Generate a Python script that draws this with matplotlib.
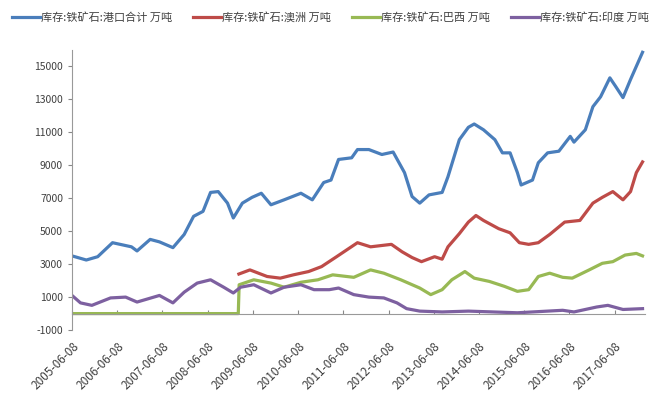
import matplotlib.pyplot as plt
import pandas as pd

plt.rcParams['font.family'] = ['Noto Sans CJK SC', 'DejaVu Sans']
plt.rcParams['axes.unicode_minus'] = False

# 库存:铁矿石:港口合计
total_dates = ['2005-06-08', '2005-10-01', '2006-01-01', '2006-05-01', '2006-10-01', '2006-11-15',
               '2007-03-01', '2007-05-15', '2007-09-01', '2007-12-01', '2008-02-15', '2008-05-01',
               '2008-07-01', '2008-09-01', '2008-11-15', '2009-01-01', '2009-03-15', '2009-06-01',
               '2009-08-15', '2009-11-01', '2010-02-15', '2010-07-01', '2010-10-01', '2011-01-01',
               '2011-03-01', '2011-05-01', '2011-08-15', '2011-10-01', '2012-01-01', '2012-04-15',
               '2012-07-15', '2012-10-15', '2012-12-15', '2013-02-15', '2013-05-01', '2013-08-15',
               '2013-10-01', '2014-01-01', '2014-03-15', '2014-05-01', '2014-07-15', '2014-10-15',
               '2014-12-15', '2015-02-15', '2015-04-15', '2015-05-15', '2015-08-15', '2015-10-01',
               '2015-12-15', '2016-03-15', '2016-06-15', '2016-07-15', '2016-10-15', '2016-12-15',
               '2017-02-15', '2017-05-01', '2017-06-15', '2017-08-15', '2017-10-15', '2017-12-01',
               '2018-01-20']
total_vals = [3500, 3250, 3450, 4300, 4050, 3800,
              4500, 4350, 4000, 4800, 5900, 6200,
              7350, 7400, 6700, 5800, 6700, 7050,
              7300, 6600, 6900, 7300, 6900, 7950,
              8100, 9350, 9450, 9950, 9950, 9650,
              9800, 8550, 7100, 6700, 7200, 7350,
              8300, 10550, 11300, 11500, 11150, 10550,
              9750, 9750, 8550, 7800, 8100, 9150,
              9750, 9850, 10750, 10400, 11150, 12550,
              13150, 14300, 13800, 13100, 14200, 15000,
              15850]

# 库存:铁矿石:澳洲
aus_dates = ['2009-02-15', '2009-05-15', '2009-10-01', '2010-01-15', '2010-05-01', '2010-09-01',
             '2010-12-15', '2011-04-15', '2011-10-01', '2012-01-15', '2012-07-01', '2012-09-25',
             '2012-12-15', '2013-03-01', '2013-06-15', '2013-08-15', '2013-10-01', '2014-01-01',
             '2014-03-15', '2014-05-15', '2014-07-15', '2014-11-15', '2015-02-15', '2015-05-01',
             '2015-07-15', '2015-10-01', '2016-01-01', '2016-05-01', '2016-09-01', '2016-12-15',
             '2017-03-01', '2017-05-25', '2017-08-15', '2017-10-15', '2017-12-01', '2018-01-20']
aus_vals = [2400, 2650, 2250, 2150, 2350, 2550,
            2850, 3450, 4300, 4050, 4200, 3750,
            3400, 3150, 3450, 3300, 4050, 4850,
            5550, 5950, 5650, 5150, 4900, 4300,
            4200, 4300, 4800, 5550, 5650, 6700,
            7050, 7400, 6900, 7400, 8550, 9200]

# 库存:铁矿石:巴西
bra_dates = ['2005-06-08', '2009-02-10', '2009-02-17', '2009-06-15', '2009-11-01', '2010-02-15',
             '2010-07-01', '2010-11-15', '2011-03-15', '2011-09-01', '2012-01-15', '2012-05-01',
             '2012-09-15', '2013-02-15', '2013-05-15', '2013-08-15', '2013-11-01', '2014-02-15',
             '2014-05-01', '2014-09-01', '2015-01-01', '2015-04-15', '2015-07-15', '2015-10-01',
             '2016-01-01', '2016-04-15', '2016-07-01', '2016-11-15', '2017-03-01', '2017-05-25',
             '2017-09-01', '2017-12-01', '2018-01-20']
bra_vals = [0, 0, 1750, 2050, 1850, 1600,
            1900, 2050, 2350, 2200, 2650, 2450,
            2050, 1550, 1150, 1450, 2050, 2550,
            2150, 1950, 1650, 1350, 1450, 2250,
            2450, 2200, 2150, 2650, 3050, 3150,
            3550, 3650, 3500]

# 库存:铁矿石:印度
ind_dates = ['2005-06-08', '2005-08-15', '2005-11-15', '2006-04-15', '2006-08-15', '2006-11-15',
             '2007-05-15', '2007-09-01', '2007-12-01', '2008-03-15', '2008-07-01', '2008-10-15',
             '2009-01-01', '2009-03-01', '2009-06-15', '2009-11-01', '2010-02-15', '2010-07-01',
             '2010-10-15', '2011-02-15', '2011-05-01', '2011-09-01', '2012-01-01', '2012-05-01',
             '2012-08-15', '2012-11-01', '2013-02-15', '2013-08-15', '2014-03-15', '2015-04-15',
             '2016-04-15', '2016-07-15', '2017-01-15', '2017-04-15', '2017-08-15', '2018-01-20']
ind_vals = [1100, 650, 500, 950, 1000, 700,
            1100, 650, 1300, 1850, 2050, 1600,
            1250, 1600, 1750, 1250, 1600, 1750,
            1450, 1450, 1550, 1150, 1000, 950,
            650, 300, 150, 100, 150, 50,
            200, 100, 400, 500, 250, 300]

labels = ['库存:铁矿石:港口合计 万吨', '库存:铁矿石:澳洲 万吨', '库存:铁矿石:巴西 万吨', '库存:铁矿石:印度 万吨']
colors = ['#4A7EBB', '#BE4B48', '#98B954', '#7D60A0']
series = [(total_dates, total_vals), (aus_dates, aus_vals), (bra_dates, bra_vals), (ind_dates, ind_vals)]

fig = plt.figure(figsize=(6.61, 4.05), dpi=100)
ax = fig.add_axes([0.109, 0.185, 0.867, 0.692])

for (d, v), lab, c in zip(series, labels, colors):
    ax.plot(pd.to_datetime(d), v, color=c, lw=2.3, label=lab)

# spine placement resets ticks, so do it before styling tick labels
for s in ['top', 'right']:
    ax.spines[s].set_visible(False)
ax.spines['bottom'].set_position(('data', 0))
ax.spines['bottom'].set_color('#999999')
ax.spines['left'].set_color('#999999')

ax.set_xlim(pd.Timestamp('2005-06-08'), pd.Timestamp('2018-02-10'))
ax.set_ylim(-1000, 16000)
ax.set_yticks(range(-1000, 15001, 2000))
xt = pd.to_datetime([f'{y}-06-08' for y in range(2005, 2018)])
ax.set_xticks(xt)
ax.set_xticklabels([t.strftime('%Y-%m-%d') for t in xt], rotation=45, ha='right',
                   rotation_mode='anchor', fontsize=8.5, color='#404040')
ax.tick_params(axis='x', direction='in', length=3, pad=19, color='#888888')
ax.tick_params(axis='y', direction='out', length=3, labelsize=7.5, labelcolor='#404040', color='#888888')

fig.legend(loc='upper center', bbox_to_anchor=(0.5, 0.995), ncol=4, frameon=False,
           fontsize=8, handlelength=2.5, columnspacing=1.9, handletextpad=0.1,
           labelcolor='#404040')

fig.savefig('out.png', dpi=100)
